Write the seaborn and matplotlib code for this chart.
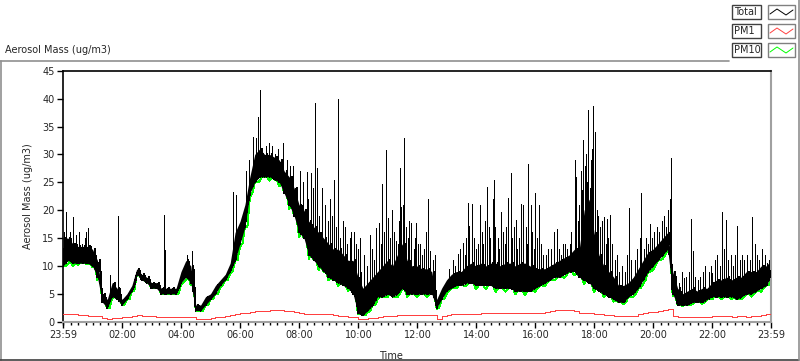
import numpy as np
import pandas as pd
import matplotlib
matplotlib.use("Agg")
import matplotlib.pyplot as plt
import seaborn as sns
from matplotlib.patches import Rectangle
from matplotlib.lines import Line2D

# ---------------- data (minutes after 23:59, 10-minute grid) ----------------
grid_minutes = list(range(0, 1441, 10))

total_low = [
    10, 11, 10.5, 10.5, 10.5, 10.5,
    10, 8, 3.5, 2.5, 4.5, 4,
    3, 4, 5.5, 8.5, 7.5, 7,
    6, 6, 5, 5, 5, 5,
    7, 8, 7, 2, 2, 3,
    4, 5, 6.5, 7.5, 9, 11,
    14, 17, 23, 25, 26, 26,
    26, 25.5, 25, 23, 21, 19,
    16, 15, 12, 11, 10, 9,
    8, 7.5, 7, 6.5, 6, 5,
    1.5, 1.2, 2, 3, 4.5, 4.5,
    5, 4.5, 5, 6, 5, 5,
    5, 5, 5, 5, 2.5, 4,
    5.5, 6, 6.5, 6.5, 7, 7,
    6.5, 6.5, 6.5, 6.5, 6, 6,
    6, 6, 5.5, 5.5, 5.5, 5.5,
    6, 6.5, 7, 7.5, 8, 8,
    8.5, 9, 9, 8, 7.5, 7,
    6, 5.5, 5, 4.5, 4, 3.5,
    3.5, 4.5, 5, 6, 7.5, 9,
    10, 11, 12, 13, 5, 3,
    3, 3, 3.5, 3.5, 3.5, 4,
    4.5, 4.5, 4.5, 4.5, 4.5, 4,
    4.5, 5, 5, 5.5, 6, 6.5,
    8,
]

total_high = [
    15, 15, 14, 13.5, 13.5, 13.5,
    13, 11, 5, 4, 7, 6,
    4, 5, 6.5, 9.5, 8.5, 8,
    7, 7, 6, 6, 6, 6,
    9, 11, 10, 3, 3, 4.5,
    5, 6.5, 7.5, 8.5, 10.5, 16,
    18, 21, 26, 30, 31, 30,
    30, 29.5, 29, 27, 26, 24,
    21, 20, 18, 17, 16, 15,
    14, 13, 13, 12, 11, 11,
    8, 6, 7, 8, 9, 10,
    11, 10, 12, 14, 11, 10,
    10, 9.5, 9.5, 9, 4, 6,
    7.5, 8.5, 9, 9, 10, 10.5,
    10, 10.5, 10, 10.5, 10.5, 10,
    10.5, 10.5, 10, 10.5, 10.5, 10,
    9.5, 9.5, 9.5, 10, 10.5, 11,
    11.5, 12, 13, 13, 20, 22,
    16, 12, 10, 9, 8, 6.5,
    6.5, 7, 8, 9.5, 11, 12.5,
    13, 14, 15, 16, 9, 6,
    5, 5.5, 6, 5.5, 6, 6,
    7, 7.5, 7.5, 8, 7.5, 8,
    8, 9, 9, 9, 10, 10,
    11,
]

pm10_low = [
    10, 10.3, 10, 10.2, 10.5, 10.3,
    9.8, 7.5, 3.5, 2.5, 4.2, 4,
    3, 4, 5.5, 8.5, 7.5, 7,
    6, 6, 5, 5, 5, 5,
    6.6, 7.5, 6.5, 2, 2, 3,
    4, 5, 6.2, 7.5, 8.6, 11,
    13.5, 17, 22.3, 25, 25.2, 26,
    25.3, 25.5, 24.3, 23, 20.2, 19,
    15.2, 15, 11.3, 11, 9.3, 9,
    7.4, 7.5, 6.4, 6.5, 5.5, 5,
    1.3, 1.2, 1.7, 3, 4, 4.5,
    4.4, 4.5, 4.4, 6, 4.4, 5,
    4.5, 5, 4.4, 5, 2.3, 4,
    5, 6, 6, 6.5, 6.4, 7,
    5.8, 6.5, 5.8, 6.5, 5.3, 6,
    5.4, 6, 4.9, 5.5, 4.8, 5.5,
    5.4, 6.5, 6.4, 7.5, 7.4, 8,
    7.9, 9, 8.3, 8, 6.8, 7,
    5.3, 5.5, 4.4, 4.5, 3.6, 3.5,
    3.2, 4.5, 4.5, 6, 6.8, 9,
    9.3, 11, 11.3, 13, 4.6, 3,
    2.8, 3, 3.2, 3.5, 3.2, 4,
    4, 4.5, 4, 4.5, 4, 4,
    4.1, 5, 4.5, 5.5, 5.4, 6.5,
    7.4,
]

pm1 = [
    1.3, 1.3, 1.3, 1.2, 1.2, 1.1,
    1.0, 1.0, 0.6, 0.5, 0.6, 0.7,
    0.8, 0.9, 1.1, 1.2, 1.1, 1.0,
    1.0, 0.9, 0.8, 0.8, 0.8, 0.9,
    0.9, 0.9, 0.8, 0.4, 0.4, 0.5,
    0.6, 0.8, 0.9, 1.1, 1.2, 1.3,
    1.5, 1.6, 1.8, 1.9, 2.0, 2.0,
    2.1, 2.1, 2.1, 2.0, 1.9, 1.7,
    1.5, 1.4, 1.3, 1.3, 1.3, 1.3,
    1.3, 1.2, 1.1, 1.0, 0.9, 0.8,
    0.5, 0.5, 0.6, 0.7, 0.9, 1.0,
    1.1, 1.1, 1.2, 1.2, 1.2, 1.2,
    1.2, 1.2, 1.2, 1.2, 0.5, 1.0,
    1.2, 1.3, 1.3, 1.3, 1.4, 1.4,
    1.4, 1.5, 1.5, 1.5, 1.5, 1.5,
    1.5, 1.5, 1.5, 1.5, 1.5, 1.6,
    1.5, 1.6, 1.8, 2.0, 2.1, 2.1,
    2.1, 2.1, 2.0, 1.6, 1.5, 1.5,
    1.4, 1.3, 1.2, 1.2, 1.1, 1.1,
    1.0, 1.0, 1.1, 1.3, 1.5, 1.7,
    1.8, 1.9, 2.1, 2.2, 1.0, 0.8,
    0.8, 0.8, 0.8, 0.8, 0.8, 0.9,
    1.0, 1.0, 1.1, 1.0, 0.9, 1.0,
    1.0, 0.9, 1.0, 1.1, 1.2, 1.4,
    1.5,
]

# isolated spikes of the Total trace (minute, peak value)
spike_minutes = [
    3, 6, 9, 14, 17, 21, 26, 29, 33, 38, 44, 47, 51, 56,
    96, 112, 206, 208, 252, 263,
    346, 351, 372, 378, 387, 392, 397, 401, 405, 412, 418, 426, 432, 438,
    447, 455, 461, 468,
    483, 488, 496, 499, 504, 508, 512, 516, 521, 527, 533, 538, 543, 548,
    552, 556, 559, 564, 569, 573, 578, 583, 586, 591, 596, 599, 604,
    607, 612, 618, 624, 628, 632, 636, 642, 646, 649, 653, 657, 662, 666, 669,
    673, 677, 681, 683, 686, 688, 691, 694, 697, 701, 704, 708, 713, 716,
    718, 722, 727, 731, 734, 738, 742, 747, 752, 756,
    786, 793, 798, 804, 808, 813, 817, 819, 823, 826, 831, 836, 841,
    844, 848, 852, 855, 858, 863, 866, 869, 874, 876, 879, 884, 887, 891,
    894, 898, 902, 906, 911, 914, 917, 921, 924, 927, 931, 936, 941, 943,
    946, 951, 954, 957, 961, 964, 968, 972, 976, 983, 987, 993, 999, 1004,
    1008, 1013, 1016, 1021, 1026, 1031, 1034,
    1041, 1044, 1047, 1049, 1053, 1056, 1058, 1061, 1063, 1066, 1068, 1071,
    1073, 1076, 1078, 1082, 1086, 1089, 1093, 1096, 1101, 1104, 1107, 1109,
    1113, 1116,
    1123, 1127, 1131, 1137, 1143, 1147, 1151, 1156, 1163, 1168, 1173, 1176,
    1181, 1186, 1189, 1194, 1198, 1203, 1208, 1212, 1218, 1223, 1226, 1231,
    1234, 1237,
    1253, 1258, 1263, 1268, 1273, 1278, 1281, 1286, 1291, 1296, 1302, 1306,
    1313, 1317, 1321, 1326, 1331, 1336, 1341, 1344, 1349, 1353, 1358, 1362,
    1366, 1371, 1376, 1381, 1386, 1392, 1397, 1402, 1407, 1412, 1416, 1422,
    1427, 1431, 1436,
]
spike_values = [
    16, 19.7, 14.5, 16, 15, 18.8, 15.5, 14, 16, 14, 15, 16, 16.8, 13.5,
    8.4, 19.0, 19.1, 12.8, 12, 12.7,
    23.3, 22.7, 27, 29, 33.2, 33, 36.8, 41.5, 31, 31.5, 32, 31.5, 30, 31,
    32, 29, 28, 28,
    27, 25, 26.9, 22, 26.6, 24, 39.3, 27.5, 19, 24, 21, 18, 22, 19,
    25.4, 17, 39.9, 15, 18, 17, 14, 15, 16, 16.1, 14, 13, 15,
    9, 12, 10, 15.5, 13, 11, 16.8, 17.7, 14, 24.7, 16, 30.8, 18.6, 15, 20,
    16, 14.5, 14, 18, 27.5, 20.6, 21, 32.9, 17, 15, 18, 17.7, 13, 15,
    17.7, 14, 14, 12, 13, 16, 22, 12.7, 11, 12,
    9.5, 11, 10, 12.1, 13, 14.1, 12, 15, 21.3, 17.1, 21.1, 15, 13,
    14, 21, 16, 14, 18, 24.2, 17, 15, 22, 25.4, 17, 15, 13, 19.7,
    16, 14, 17, 22.2, 26.6, 15, 17, 18.3, 13, 15, 21.1, 21, 17, 14,
    28.3, 21, 16, 13, 23, 15, 21, 14, 12, 12, 13, 13, 16.1, 16.7,
    13, 12, 14, 14, 13, 14, 16,
    29, 26, 18, 21, 27, 23.6, 32.6, 28, 30, 25, 38, 24,
    29, 31, 38.6, 34, 20, 19, 17, 18, 18.8, 14, 18.4, 15,
    19.2, 14,
    11, 12, 9, 10, 9, 12, 20.4, 11, 11, 13, 15, 23,
    13, 15, 14, 17.5, 15, 16, 17, 16, 18, 19, 17, 20,
    22, 29.4,
    7, 9, 7.9, 8, 9, 18.4, 12.6, 8, 7.5, 8, 9, 10,
    9, 10, 8.8, 11, 12, 10, 19.7, 13, 18.2, 11, 12, 10,
    12, 17.2, 11, 12, 11, 12, 11, 18.8, 14, 12, 11, 13,
    12, 10.6, 11,
]

tick_minutes = [0, 121, 241, 361, 481, 601, 721, 841, 961, 1081, 1201, 1321, 1440]
tick_labels = ["23:59", "02:00", "04:00", "06:00", "08:00", "10:00", "12:00",
               "14:00", "16:00", "18:00", "20:00", "22:00", "23:59"]
y_ticks = [0, 5, 10, 15, 20, 25, 30, 35, 40, 45]

# ---------------- build plotting tables ----------------
g = np.array(grid_minutes, dtype=float)
tz, vz = [], []
for t, lo, hi in zip(grid_minutes, total_low, total_high):
    tz.append(t); vz.append(lo)
    if t < 1440:
        tz.append(t + 5); vz.append(hi)
df_total = pd.DataFrame({"t": tz, "v": vz})

base = np.interp(spike_minutes, g, total_low)
df_spikes = pd.DataFrame({
    "t": list(spike_minutes) * 2,
    "v": list(base) + list(spike_values),
    "id": list(range(len(spike_minutes))) * 2,
})

tp, vp = [], []
for t, lo, lo2 in zip(grid_minutes, pm10_low, total_low):
    tp.append(t); vp.append(lo)
    if t < 1440:
        tp.append(t + 5); vp.append(lo2)
df_pm10 = pd.DataFrame({"t": tp, "v": vp})
df_pm1 = pd.DataFrame({"t": grid_minutes, "v": pm1})

# ---------------- figure ----------------
sns.set_style("white")
plt.rcParams["font.family"] = ["DejaVu Sans"]
plt.rcParams["font.size"] = 7

W, H = 800, 361
fig = plt.figure(figsize=(W / 100, H / 100), dpi=100)
ax = fig.add_axes([63 / W, 1 - 321.7 / H, 708 / W, 250.9 / H])

LW = 0.72
sns.lineplot(data=df_pm10, x="t", y="v", color="#00ff00", lw=LW,
             estimator=None, sort=False, ax=ax, zorder=1, antialiased=False)
ax.fill_between(g, total_low, total_high, color="black", lw=0, zorder=2,
                antialiased=False)
sns.lineplot(data=df_total, x="t", y="v", color="black", lw=LW,
             estimator=None, sort=False, ax=ax, zorder=3, antialiased=False)
sns.lineplot(data=df_spikes, x="t", y="v", units="id", color="black", lw=LW,
             estimator=None, ax=ax, zorder=3, antialiased=False)
sns.lineplot(data=df_pm1, x="t", y="v", color="#ff4040", lw=LW,
             estimator=None, sort=False, ax=ax, zorder=4, drawstyle="steps-post",
             antialiased=False)

ax.set_xlim(0, 1440)
ax.set_ylim(0, 45)
ax.set_xticks(tick_minutes)
ax.set_xticklabels(tick_labels)
ax.set_xticks([1 + 15 * k for k in range(96)], minor=True)
ax.set_yticks(y_ticks)
ax.set_yticklabels([str(v) for v in y_ticks])
ax.tick_params(axis="x", which="major", length=4, width=1, direction="out",
               bottom=True, color="black", labelsize=7, pad=2)
ax.tick_params(axis="x", which="minor", length=2.5, width=1, direction="out",
               bottom=True, color="black")
ax.tick_params(axis="y", which="major", length=4, width=1, direction="out",
               left=True, color="black", labelsize=7, pad=2)

for side in ["top", "left"]:
    ax.spines[side].set_color("black")
    ax.spines[side].set_linewidth(1.2)
for side in ["right", "bottom"]:
    ax.spines[side].set_color("#a0a0a0")
    ax.spines[side].set_linewidth(1.5)

ax.set_xlabel("Time", fontsize=7)
ax.xaxis.set_label_coords(0.463, -0.115)
ax.set_ylabel("Aerosol Mass (ug/m3)", fontsize=7)
ax.yaxis.set_label_coords(-0.042, 0.5)

# ---------------- outer frame & titles ----------------
def px(x, y):
    return x / W, 1 - y / H

def fline(x0, y0, x1, y1, color, lw=1.0):
    (a, b), (c, d) = px(x0, y0), px(x1, y1)
    fig.add_artist(Line2D([a, c], [b, d], transform=fig.transFigure,
                          color=color, lw=lw))

fline(0, 61, 729, 61, "#909090", 1.2)
fline(0.5, 61, 0.5, 360, "#909090", 1.2)
fline(0, 359.5, 799, 359.5, "#404040", 1.2)
fline(798.5, 0, 798.5, 360, "#909090", 1.2)

fig.text(5 / W, 1 - 50 / H, "Aerosol Mass (ug/m3)", fontsize=7,
         ha="left", va="center")

# ---------------- legend (LabVIEW style) ----------------
legend_names = ["Total", "PM1", "PM10"]
legend_colors = ["black", "#ff4040", "#00ff00"]
legend_tops = [5, 24, 43]
for name, col, top in zip(legend_names, legend_colors, legend_tops):
    x0, y0 = px(732, top + 13.5)
    fig.add_artist(Rectangle((x0, y0), 29 / W, 13.5 / H, transform=fig.transFigure,
                             facecolor="white", edgecolor="#404040", lw=1))
    fig.text(734 / W, 1 - (top + 7) / H, name, fontsize=7, ha="left", va="center")
    x1, y1 = px(768, top + 13.5)
    fig.add_artist(Rectangle((x1, y1), 27 / W, 13.5 / H, transform=fig.transFigure,
                             facecolor="white", edgecolor="#808080", lw=1))
    zx = [770, 777, 786, 793]
    zy = [top + 9, top + 4, top + 10, top + 5]
    fig.add_artist(Line2D([x / W for x in zx], [1 - y / H for y in zy],
                          transform=fig.transFigure, color=col, lw=0.7))

fig.savefig("out.png", dpi=100)
